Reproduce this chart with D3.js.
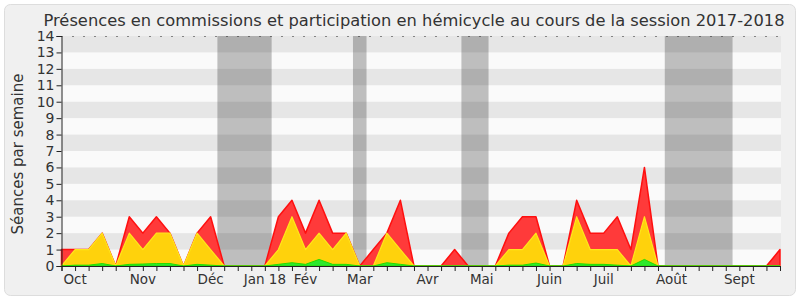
<!DOCTYPE html>
<html><head><meta charset="utf-8">
<script src="https://cdn.jsdelivr.net/npm/d3@7"></script>
<style>body{margin:0;background:#fff}svg{display:block}text{font-family:"DejaVu Sans",sans-serif}</style>
</head><body>
<svg id="c" width="800" height="300"></svg>
<script>
const title = "Présences en commissions et participation en hémicycle au cours de la session 2017-2018";
const yTitle = "Séances par semaine";
// weekly values, index 0..53
const presences = [1,1,1,2,0,3,2,3,2,0,2,3,0,0,0,0,3,4,2,4,2,2,0,1,2,4,0,0,0,1,0,0,0,2,3,3,0,0,4,2,2,3,1,6,0,0,0,0,0,0,0,0,0,1];
const participations = [0,1,1,2,0,2,1,2,2,0,2,1,0,0,0,0,1,3,1,2,1,2,0,0,2,1,0,0,0,0,0,0,0,1,1,2,0,0,3,1,1,1,0,3,0,0,0,0,0,0,0,0,0,0];
const interventions = [0,0.05,0.05,0.15,0,0.1,0.12,0.15,0.15,0,0.1,0.05,0,0,0,0,0.1,0.2,0.1,0.4,0.1,0.1,0,0,0.2,0.1,0,0,0,0,0,0,0,0.05,0.05,0.18,0,0,0.15,0.1,0.1,0.05,0,0.4,0,0,0,0,0,0,0,0,0,0];
const monthLabels = ["Oct","Nov","Déc","Jan 18","Fév","Mar","Avr","Mai","Juin","Juil","Août","Sept"];
const monthWeeks = [1,6,11,15,18,22,27,31,36,40,45,50];
const vacStart = [11.5,21.5,29.5,44.5];
const vacEnd = [15.5,22.5,31.5,49.5];
const yTicks = d3.range(0,15);

const svg = d3.select("#c");
svg.append("rect").attr("x",4.5).attr("y",4.5).attr("width",791).attr("height",291).attr("rx",6)
  .attr("fill","#f0f0f0").attr("stroke","#dddddd");

const x = d3.scaleLinear().domain([0,presences.length-1]).range([61.5,780]);
const y = d3.scaleLinear().domain([0,14]).range([266,36]);

const g = svg.append("g");
g.append("rect").attr("x",x(0)).attr("y",y(14)).attr("width",x(53)-x(0)+1).attr("height",y(0)-y(14)).attr("fill","#fafafa");
g.selectAll(".vac").data(vacStart).enter().append("rect")
  .attr("x",(d)=>x(d)).attr("width",(d,i)=>x(vacEnd[i])-x(d))
  .attr("y",y(14)).attr("height",y(0)-y(14)).attr("fill","#bebebe");
g.selectAll(".stripe").data(yTicks.filter(k=>k%2===1 && k<14)).enter().append("rect")
  .attr("x",x(0)).attr("width",x(53)-x(0)+1)
  .attr("y",d=>y(d+1)).attr("height",d=>y(d)-y(d+1)).attr("fill","#000").attr("fill-opacity",0.08);
g.append("line").attr("x1",x(0)).attr("x2",x(53)).attr("y1",y(14)+0.5).attr("y2",y(14)+0.5)
  .attr("stroke","#222").attr("stroke-dasharray","1,10");

function area(data){return d3.area().x((d,i)=>x(i)).y0(y(0)).y1(d=>y(d))(data);}
g.append("path").attr("d",area(presences)).attr("fill","#ff3a3a").attr("stroke","#ff0f0f").attr("stroke-width",1.5).attr("stroke-linejoin","round");
g.append("path").attr("d",area(participations)).attr("fill","#ffd20c").attr("stroke","#ffe81a").attr("stroke-width",1.2).attr("stroke-linejoin","round");
g.append("path").attr("d",area(interventions)).attr("fill","#2ee82e").attr("stroke","#22dd00").attr("stroke-width",1);

// axes
const xAxis = d3.axisBottom(x).tickValues(d3.range(0,presences.length)).tickSize(5).tickFormat("");
const xa = svg.append("g").attr("transform",`translate(0,${y(0)})`).call(xAxis);
xa.select(".domain").attr("stroke","#222");
xa.selectAll(".tick line").attr("stroke","#222");
svg.selectAll(".mlab").data(monthLabels).enter().append("text")
  .attr("x",(d,i)=>x(monthWeeks[i])).attr("y",283.5).attr("text-anchor","middle")
  .attr("font-size",13.5).attr("fill","#333").text(d=>d);

const yAxis = d3.axisLeft(y).tickValues(yTicks).tickSize(5).tickPadding(2);
const ya = svg.append("g").attr("transform",`translate(${x(0)},0)`).call(yAxis);
ya.select(".domain").attr("stroke","#222");
ya.selectAll(".tick line").attr("stroke","#222");
ya.selectAll(".tick text").attr("font-size",14).attr("fill","#333").attr("font-family","DejaVu Sans");

svg.append("text").attr("transform","translate(22.5,154) rotate(-90)").attr("text-anchor","middle")
  .attr("font-size",15).attr("fill","#333").text(yTitle);
svg.append("text").attr("x",414).attr("y",26).attr("text-anchor","middle")
  .attr("font-size",16.3).attr("fill","#333").text(title);
</script>
</body></html>
